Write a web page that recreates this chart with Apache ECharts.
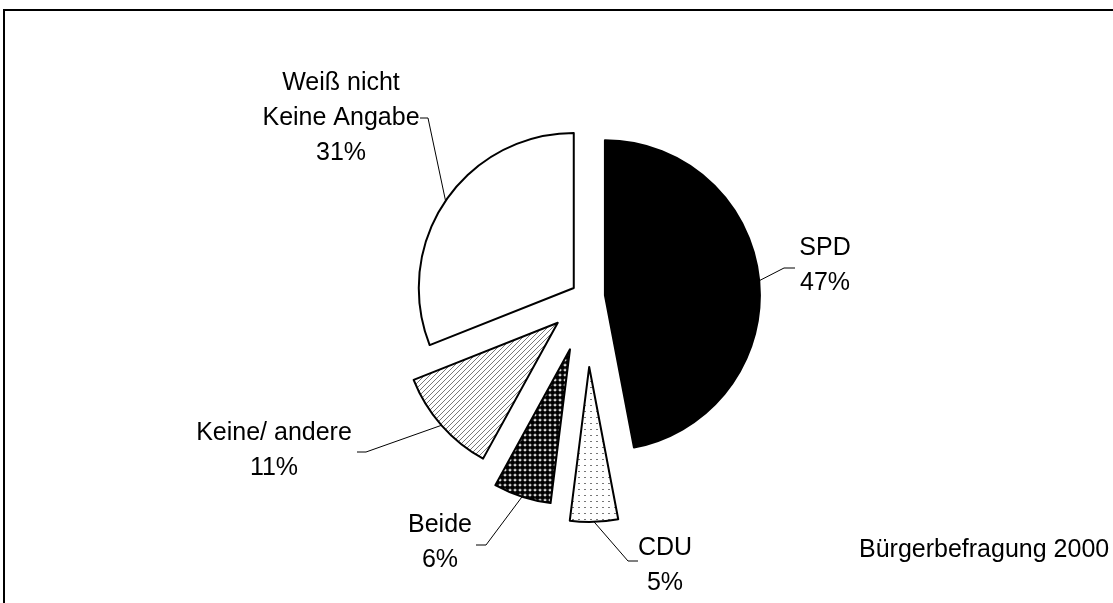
<!DOCTYPE html>
<html>
<head>
<meta charset="utf-8">
<script src="https://cdn.jsdelivr.net/npm/echarts@6/dist/echarts.min.js"></script>
<style>
  html, body { margin: 0; padding: 0; background: #fff; }
  #main { width: 1113px; height: 603px; }
</style>
</head>
<body>
<div id="main"></div>
<script>
// data
var names = ['SPD', 'CDU', 'Beide', 'Keine/ andere', 'Weiß nicht\nKeine Angabe'];
var values = [47, 5, 6, 11, 31];
var note = 'Bürgerbefragung 2000';

// how far each slice is pulled out, where its label sits, and the bend of its leader line
var explode = [18, 70, 55, 39, 16];
var labelPos = [[825, 266], [665, 566], [440, 543], [274, 451], [341, 118]];
var lineBend = [[[784, 268], [795, 268]], [[628, 561], [638, 561]], [[486, 545], [476, 545]],
    [[366, 452], [357, 452]], [[428, 118], [420, 118]]];
var pieCenter = [587, 297];
var font = '"Liberation Sans", Arial, sans-serif';

// small tiles for the hatched fills
function tile(w, h, draw) {
    var c = document.createElement('canvas');
    c.width = w; c.height = h;
    var ctx = c.getContext('2d');
    ctx.fillStyle = '#fff';
    ctx.fillRect(0, 0, w, h);
    draw(ctx);
    return { image: c, repeat: 'repeat' };
}
var dots = tile(6, 6, function (ctx) {
    ctx.fillStyle = '#777';
    ctx.fillRect(2, 3, 2, 1);
});
var checker = tile(5, 5, function (ctx) {
    ctx.fillStyle = '#000';
    ctx.beginPath();
    ctx.arc(2.5, 2.5, 2.5, 0, Math.PI * 2);
    ctx.fill();
});
var hatch = tile(5, 5, function (ctx) {
    ctx.strokeStyle = '#555';
    ctx.lineWidth = 0.8;
    ctx.beginPath();
    ctx.moveTo(-1, 6); ctx.lineTo(6, -1);
    ctx.stroke();
});
var fills = ['#000', dots, checker, hatch, '#fff'];

// centre of each pulled-out slice: shift along the middle of the slice
var total = values.reduce(function (a, b) { return a + b; }, 0);
var centers = [];
var acc = 0;
values.forEach(function (v, i) {
    var mid = (acc + v / 2) / total * Math.PI * 2;
    acc += v;
    centers.push([pieCenter[0] + explode[i] * Math.sin(mid), pieCenter[1] - explode[i] * Math.cos(mid)]);
});

// one pie per slice so every slice can have its own pull-out
function buildSeries(k) {
    return {
        type: 'pie',
        center: centers[k],
        radius: 155,
        startAngle: 90,
        clockwise: true,
        avoidLabelOverlap: false,
        silent: true,
        animation: false,
        emphasis: { disabled: true },
        label: { show: false },
        labelLine: { show: false },
        data: names.map(function (n, i) {
            if (i !== k) {
                return {
                    name: n, value: values[i],
                    itemStyle: { color: 'transparent', borderWidth: 0 },
                    label: { show: false }, labelLine: { show: false }
                };
            }
            return {
                name: n, value: values[i],
                itemStyle: { color: fills[i], borderColor: '#000', borderWidth: 2 },
                label: {
                    show: true,
                    position: 'outside',
                    formatter: '{b}\n{d}%',
                    color: '#000',
                    fontFamily: font,
                    fontSize: 25,
                    lineHeight: 35,
                    align: 'center'
                },
                labelLine: { show: true, length: 20, length2: 10, lineStyle: { color: '#000', width: 1 } }
            };
        }),
        labelLayout: function (p) {
            if (p.dataIndex !== k) return;
            var pts = p.labelLinePoints;
            return {
                x: labelPos[k][0], y: labelPos[k][1],
                align: 'center', verticalAlign: 'middle',
                labelLinePoints: pts ? [pts[0], lineBend[k][0], lineBend[k][1]] : undefined
            };
        }
    };
}

var myChart = echarts.init(document.getElementById('main'));
var option = {
    backgroundColor: '#fff',
    animation: false,
    graphic: [
        {
            type: 'rect',
            shape: { x: 4, y: 10, width: 1300, height: 800 },
            style: { fill: 'none', stroke: '#000', lineWidth: 2 }
        },
        {
            type: 'text',
            x: 859, y: 550,
            style: { text: note, font: '25px ' + font, fill: '#000', verticalAlign: 'middle' }
        }
    ],
    series: names.map(function (n, k) { return buildSeries(k); })
};
myChart.setOption(option);
</script>
</body>
</html>
